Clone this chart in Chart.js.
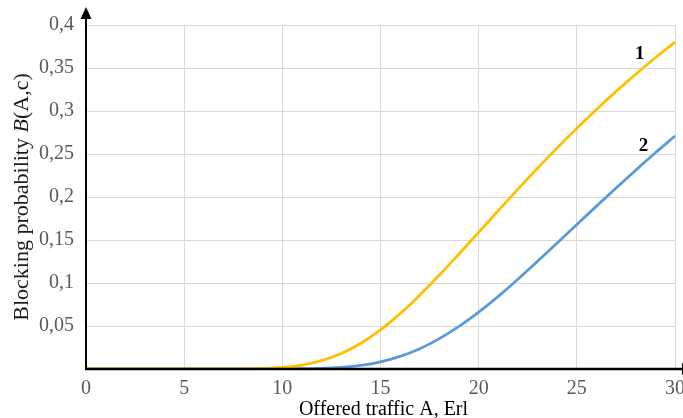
<!DOCTYPE html>
<html>
<head>
<meta charset="utf-8">
<script src="https://cdn.jsdelivr.net/npm/chart.js@4/dist/chart.umd.min.js"></script>
<style>
  html, body { margin: 0; padding: 0; background: #ffffff; }
  #wrap { width: 683px; height: 418px; position: relative; }
</style>
</head>
<body>
<div id="wrap"><canvas id="c" width="683" height="418"></canvas></div>
<script>
// ---- data ----
const trafficA = [0,1,2,3,4,5,6,7,8,9,10,11,12,13,14,15,16,17,18,19,20,21,22,23,24,25,26,27,28,29,30];
const curve1 = [0,0,0,0,0,0,0.00001,0.00004,0.0002,0.0006,0.0019,0.0046,0.0098,0.0181,0.0300,0.0456,0.0644,0.0859,0.1092,0.1338,0.1589,0.1841,0.2091,0.2334,0.2571,0.2799,0.3018,0.3228,0.3428,0.3619,0.3801];
const curve2 = [0,0,0,0,0,0,0,0,0,0.00002,0.00007,0.0003,0.0008,0.0020,0.0043,0.0084,0.0147,0.0236,0.0353,0.0495,0.0661,0.0845,0.1044,0.1252,0.1465,0.1680,0.1894,0.2105,0.2312,0.2514,0.2709];
const seriesNames = ['1', '2'];
const curveLabelAt = [[28.2, 0.366], [28.4, 0.259]];   // data-space positions of the "1" / "2" labels
const xTicks = [0, 5, 10, 15, 20, 25, 30];
const yTicks = [0.05, 0.1, 0.15, 0.2, 0.25, 0.3, 0.35, 0.4];
const xTitle = 'Offered traffic A, Erl';
const yTitleParts = [['Blocking probability ', false], ['B', true], ['(A,c)', false]];

const SERIF = '"Liberation Serif", "Times New Roman", serif';

function pts(ys) { return trafficA.map((x, i) => ({ x: x, y: ys[i] })); }

const axesPlugin = {
  id: 'axesArrows',
  afterDatasetsDraw(chart) {
    const ctx = chart.ctx;
    const xs = chart.scales.x, ys = chart.scales.y;
    const x0 = xs.getPixelForValue(0);
    const y0 = ys.getPixelForValue(0);
    const top = chart.chartArea.top;
    ctx.save();
    ctx.strokeStyle = '#000';
    ctx.fillStyle = '#000';
    // y axis
    ctx.lineWidth = 2;
    ctx.beginPath();
    ctx.moveTo(x0, y0 + 1);
    ctx.lineTo(x0, top - 6);
    ctx.stroke();
    ctx.beginPath();
    ctx.moveTo(x0, top - 18);
    ctx.lineTo(x0 - 5.5, top - 6);
    ctx.lineTo(x0 + 5.5, top - 6);
    ctx.closePath();
    ctx.fill();
    // x axis
    ctx.lineWidth = 2.5;
    ctx.beginPath();
    ctx.moveTo(x0 - 1, y0);
    ctx.lineTo(chart.width, y0);
    ctx.stroke();
    const xe = chart.width - 1;
    ctx.beginPath();
    ctx.moveTo(xe + 12, y0);
    ctx.lineTo(xe, y0 - 6);
    ctx.lineTo(xe, y0 + 6);
    ctx.closePath();
    ctx.fill();
    // curve labels
    ctx.font = 'bold 19px ' + SERIF;
    ctx.textAlign = 'center';
    ctx.textBaseline = 'middle';
    curveLabelAt.forEach((p, i) => {
      ctx.fillText(seriesNames[i], xs.getPixelForValue(p[0]), ys.getPixelForValue(p[1]));
    });
    // x title
    ctx.font = '20px ' + SERIF;
    ctx.textBaseline = 'alphabetic';
    ctx.fillStyle = '#000';
    ctx.fillText(xTitle, (chart.chartArea.left + chart.chartArea.right) / 2 + 3, chart.height - 3);
    // y title with italic B
    const fontN = '22px ' + SERIF, fontI = 'italic 22px ' + SERIF;
    let total = 0;
    const widths = yTitleParts.map(([t, it]) => { ctx.font = it ? fontI : fontN; const w = ctx.measureText(t).width; total += w; return w; });
    const cy = (chart.chartArea.top + chart.chartArea.bottom) / 2 + 0;
    ctx.translate(28, cy);
    ctx.rotate(-Math.PI / 2);
    ctx.fillStyle = '#1a1a1a';
    ctx.textAlign = 'left';
    let cx = -total / 2;
    yTitleParts.forEach(([t, it], i) => { ctx.font = it ? fontI : fontN; ctx.fillText(t, cx, 0); cx += widths[i]; });
    ctx.restore();
  }
};

new Chart(document.getElementById('c'), {
  type: 'line',
  data: {
    datasets: [
      { label: seriesNames[0], data: pts(curve1), borderColor: '#FFC000', borderWidth: 2.8, pointRadius: 0, cubicInterpolationMode: 'monotone', fill: false },
      { label: seriesNames[1], data: pts(curve2), borderColor: '#5B9BD5', borderWidth: 2.8, pointRadius: 0, cubicInterpolationMode: 'monotone', fill: false }
    ]
  },
  options: {
    responsive: false,
    animation: false,
    events: [],
    layout: { padding: { left: 0, right: 8, top: 25, bottom: 0 } },
    plugins: { legend: { display: false }, tooltip: { enabled: false } },
    scales: {
      x: {
        type: 'linear',
        min: xTicks[0], max: xTicks[xTicks.length - 1],
        afterBuildTicks: (s) => { s.ticks = xTicks.map(v => ({ value: v })); },
        afterFit: (s) => { s.height = 49; s.paddingLeft = 0; s.paddingRight = 0; },
        grid: { color: '#d9d9d9', lineWidth: 1, drawTicks: false },
        border: { display: false },
        ticks: { color: '#595959', font: { family: SERIF, size: 20 }, padding: 8, maxRotation: 0, autoSkip: false }
      },
      y: {
        min: 0, max: 0.4,
        afterBuildTicks: (s) => { s.ticks = [{ value: 0 }].concat(yTicks.map(v => ({ value: v }))); },
        afterFit: (s) => { s.width = 86; },
        grid: { color: '#d9d9d9', lineWidth: 1, drawTicks: false },
        border: { display: false },
        ticks: {
          color: '#595959', font: { family: SERIF, size: 20 }, padding: 12,
          callback: (v) => v === 0 ? '' : String(Number(v.toFixed(2))).replace('.', ',')
        }
      }
    }
  },
  plugins: [axesPlugin]
});
</script>
</body>
</html>
